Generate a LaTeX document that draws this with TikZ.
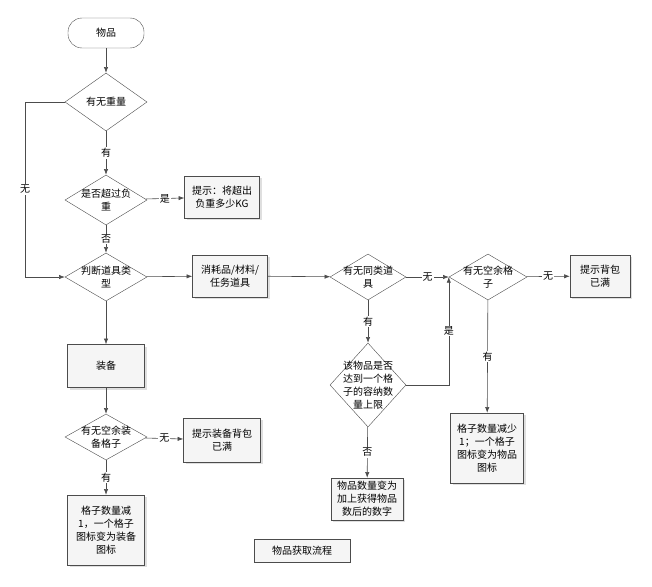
\documentclass[tikz,border=0pt]{standalone}
\usepackage{fontspec}
\setmainfont{Noto Sans CJK SC}
\usetikzlibrary{shapes.geometric, arrows.meta, shadows}

\begin{document}
\begin{tikzpicture}[
    x=1pt, y=-1pt,
    font=\fontsize{10}{13}\selectfont,
    box/.style={draw=black!70, fill=gray!8, align=center, minimum width=76pt, minimum height=42pt, inner sep=1pt, drop shadow={opacity=0.25, shadow xshift=2pt, shadow yshift=-2pt}},
    decision/.style={draw=black!70, fill=white, diamond, aspect=1.6, align=center, inner sep=-12pt, minimum width=82pt, minimum height=50pt},
    arrow/.style={-{Latex[length=2mm]}, draw=black!70, line width=0.6pt},
    lbl/.style={fill=white, inner sep=1pt}
]
\useasboundingbox (0,0) rectangle (652,586);

% Nodes
\node[draw=black!70, rounded corners=14pt, minimum width=76pt, minimum height=30pt] (start) at (106,33) {物品};
\node[decision, minimum height=58pt] (weight) at (106,102) {有无重量};
\node[decision] (over) at (106,200) {是否超过负\\重};
\node[box, minimum width=75pt] (tipkg) at (222,197) {提示：将超出\\负重多少KG};
\node[decision, minimum height=48pt] (type) at (106,277) {判断道具类\\型};
\node[box, minimum width=75pt] (misc) at (230,276) {消耗品/材料/\\任务道具};
\node[decision, minimum width=76pt, minimum height=46pt] (same) at (368,277) {有无同类道\\具};
\node[decision, minimum width=78pt, minimum height=46pt] (free) at (488,277) {有无空余格\\子};
\node[box, minimum width=60pt] (full) at (600,276) {提示背包\\已满};
\node[decision, minimum width=76pt, minimum height=84pt, aspect=0.9, inner sep=-16pt] (limit) at (368,385) {该物品是否\\达到一个格\\子的容纳数\\量上限};
\node[box, minimum width=72pt] (add) at (367,499) {物品数量变为\\加上获得物品\\数后的数字};
\node[box, minimum width=73pt, minimum height=70pt] (newslot) at (487,448) {格子数量减少\\1；一个格子\\图标变为物品\\图标};
\node[box, minimum width=77pt, minimum height=43pt] (equip) at (106,366) {装备};
\node[decision, minimum height=46pt] (efree) at (106,437) {有无空余装\\备格子};
\node[box, minimum width=77pt, minimum height=44pt] (efull) at (222,440) {提示装备背包\\已满};
\node[box, minimum width=77pt, minimum height=70pt] (eslot) at (106,530) {格子数量减\\1，一个格子\\图标变为装备\\图标};
\node[draw=black!70, fill=gray!8, minimum width=96pt, minimum height=23pt] (title) at (302,551) {物品获取流程};

% Connectors
\draw[arrow] (start) -- (weight);
\draw[arrow] (weight) -- node[lbl] {有} (over);
\draw[arrow] (over) -- node[lbl] {是} (tipkg);
\draw[arrow] (over) -- node[lbl] {否} (type);
\draw[arrow] (weight.west) -- (25,102) -- node[lbl, pos=0.5] {无} (25,277) -- (type.west);
\draw[arrow] (type) -- (misc);
\draw[arrow] (misc) -- (same);
\draw[arrow] (same) -- node[lbl] {无} (free);
\draw[arrow] (free) -- node[lbl] {无} (full);
\draw[arrow] (same) -- node[lbl] {有} (limit);
\draw[arrow] (limit) -- node[lbl] {否} (add);
\draw[arrow] (limit.east) -| node[lbl, pos=0.75] {是} (free.west);
\draw[arrow] (free) -- node[lbl] {有} (newslot);
\draw[arrow] (type) -- (equip);
\draw[arrow] (equip) -- (efree);
\draw[arrow] (efree) -- node[lbl] {无} (efull);
\draw[arrow] (efree) -- node[lbl] {有} (eslot);

\end{tikzpicture}
\end{document}
